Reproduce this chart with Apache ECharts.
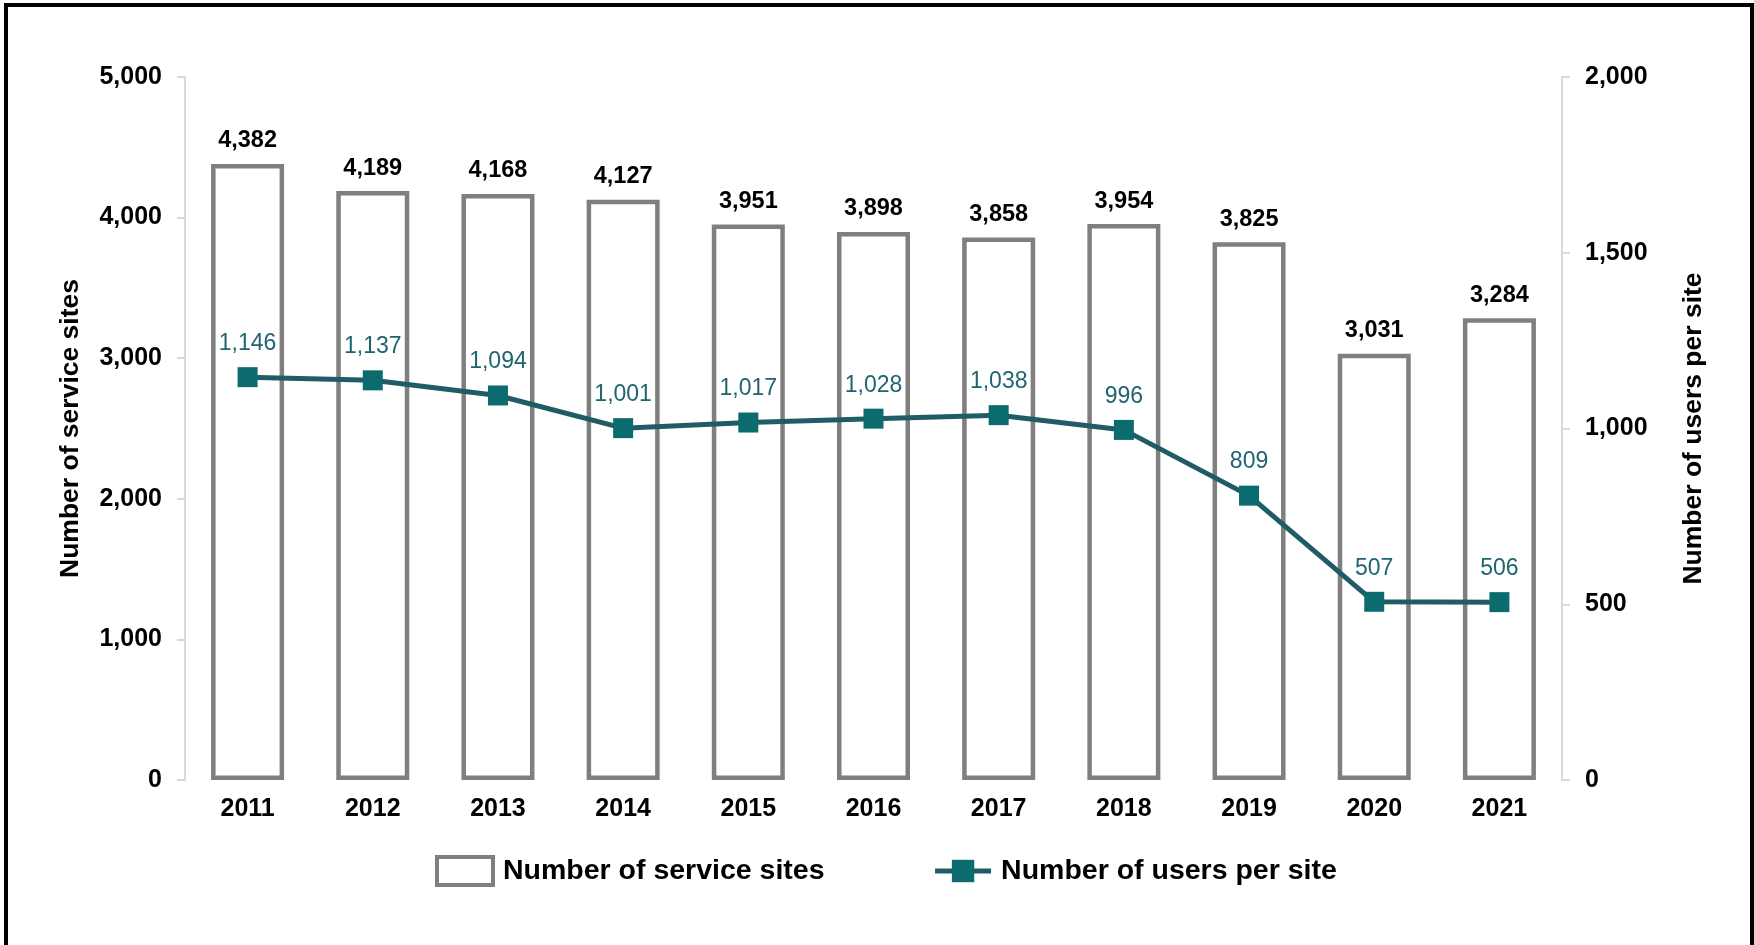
<!DOCTYPE html>
<html>
<head>
<meta charset="utf-8">
<script src="https://cdn.jsdelivr.net/npm/echarts@6/dist/echarts.min.js"></script>
<style>
  html, body { margin: 0; padding: 0; background: #fff; }
  #chart { width: 1754px; height: 945px; }
  #frame {
    position: absolute; left: 4px; top: 3px; width: 1742px; height: 960px;
    border: 4px solid #000; pointer-events: none;
  }
</style>
</head>
<body>
<div id="chart"></div>
<div id="frame"></div>
<script>
// Service sites and users per site, 2011-2021
const years = ['2011', '2012', '2013', '2014', '2015', '2016', '2017', '2018', '2019', '2020', '2021'];
const serviceSites = [4382, 4189, 4168, 4127, 3951, 3898, 3858, 3954, 3825, 3031, 3284];
const usersPerSite = [1146, 1137, 1094, 1001, 1017, 1028, 1038, 996, 809, 507, 506];

const SANS = '"Liberation Sans", Arial, sans-serif';
const TEAL_LINE = '#1f5c66';
const TEAL_MARK = '#0c6b6e';
const fmt = v => Number(v).toLocaleString('en-US');

const chart = echarts.init(document.getElementById('chart'));
chart.setOption({
  animation: false,
  backgroundColor: '#fff',
  grid: { left: 185, right: 192, top: 77, bottom: 165 },
  legend: {
    left: 430, top: 850,
    itemWidth: 56, itemHeight: 28, itemGap: 108,
    textStyle: { fontFamily: SANS, fontWeight: 'bold', fontSize: 28.5, color: '#000', padding: [0, 0, 0, 5] },
    lineStyle: { width: 5 },
    data: [
      { name: 'Number of service sites', icon: 'rect', itemStyle: { color: '#fff', borderColor: '#7f7f7f', borderWidth: 4 } },
      { name: 'Number of users per site' }
    ]
  },
  xAxis: {
    type: 'category',
    data: years,
    axisLine: { show: false },
    axisTick: { show: false },
    axisLabel: { fontFamily: SANS, fontWeight: 'bold', fontSize: 25, color: '#000', margin: 17 }
  },
  yAxis: [
    {
      type: 'value', min: 0, max: 5000, interval: 1000,
      name: 'Number of service sites', nameLocation: 'middle', nameGap: 101,
      nameTextStyle: { fontFamily: SANS, fontWeight: 'bold', fontSize: 26.5, color: '#000' },
      axisLine: { show: true, lineStyle: { color: '#d9d9d9', width: 2 } },
      axisTick: { show: true, length: 8, lineStyle: { color: '#d9d9d9', width: 2 } },
      splitLine: { show: false },
      axisLabel: { fontFamily: SANS, fontWeight: 'bold', fontSize: 25, color: '#000', margin: 23, formatter: fmt }
    },
    {
      type: 'value', min: 0, max: 2000, interval: 500,
      name: 'Number of users per site', nameLocation: 'middle', nameGap: 118, nameRotate: 90,
      nameTextStyle: { fontFamily: SANS, fontWeight: 'bold', fontSize: 26.5, color: '#000' },
      axisLine: { show: true, lineStyle: { color: '#d9d9d9', width: 2 } },
      axisTick: { show: true, length: 8, lineStyle: { color: '#d9d9d9', width: 2 } },
      splitLine: { show: false },
      axisLabel: { fontFamily: SANS, fontWeight: 'bold', fontSize: 25, color: '#000', margin: 23, formatter: fmt }
    }
  ],
  series: [
    {
      name: 'Number of service sites',
      type: 'bar',
      yAxisIndex: 0,
      data: serviceSites,
      barWidth: 73,
      itemStyle: { color: '#fff', borderColor: '#7f7f7f', borderWidth: 4.5 },
      label: {
        show: true, position: 'top', distance: 11,
        fontFamily: SANS, fontWeight: 'bold', fontSize: 23.5, color: '#000',
        formatter: p => fmt(p.value)
      }
    },
    {
      name: 'Number of users per site',
      type: 'line',
      yAxisIndex: 1,
      data: usersPerSite,
      symbol: 'rect',
      symbolSize: 20,
      lineStyle: { color: TEAL_LINE, width: 5 },
      itemStyle: { color: TEAL_MARK },
      label: {
        show: true, position: 'top', distance: 12,
        fontFamily: SANS, fontSize: 23, color: '#1f6470',
        formatter: p => fmt(p.value)
      },
      z: 5
    }
  ]
});
</script>
</body>
</html>
